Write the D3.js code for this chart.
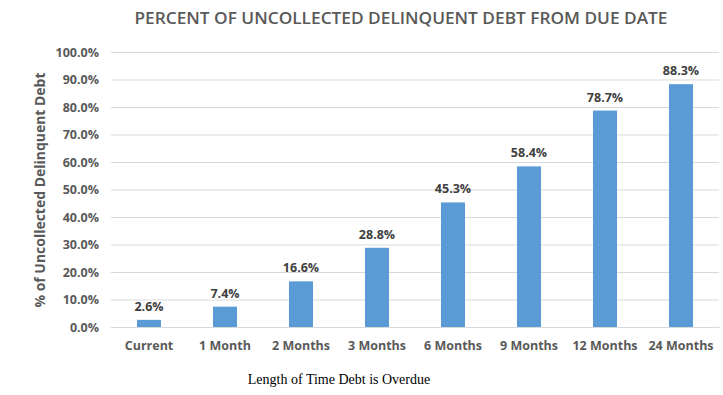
<!DOCTYPE html>
<html>
<head>
<meta charset="utf-8">
<script src="https://cdn.jsdelivr.net/npm/d3@7"></script>
<style>
  body { margin: 0; background: #fff; }
  svg { display: block; }
</style>
</head>
<body>
<script>
"use strict";

const categories = ["Current", "1 Month", "2 Months", "3 Months", "6 Months", "9 Months", "12 Months", "24 Months"];
const values = [2.6, 7.4, 16.6, 28.8, 45.3, 58.4, 78.7, 88.3];
const yTicks = [0, 10, 20, 30, 40, 50, 60, 70, 80, 90, 100];

const width = 723, height = 395;
const margin = { top: 52, right: 4, bottom: 68, left: 111 };

const svg = d3.select("body").append("svg")
    .attr("width", width)
    .attr("height", height);

const x = d3.scaleBand()
    .domain(categories)
    .range([margin.left, width - margin.right])
    .paddingInner(0.684)
    .paddingOuter(0.342);

const y = d3.scaleLinear()
    .domain([0, 100])
    .range([height - margin.bottom, margin.top]);

const labelFont = "'Open Sans', 'DejaVu Sans', sans-serif";

// gridlines + y labels
const yAxis = d3.axisLeft(y)
    .tickValues(yTicks)
    .tickSize(-(width - margin.right - margin.left))
    .tickPadding(12)
    .tickFormat(d => d.toFixed(1) + "%");

svg.append("g")
    .attr("transform", `translate(${margin.left},0)`)
    .call(yAxis)
    .call(g => g.select(".domain").remove())
    .call(g => g.selectAll(".tick line").attr("stroke", "#d9d9d9"))
    .call(g => g.selectAll(".tick text")
        .attr("fill", "#595959")
        .style("font", `bold 12.5px ${labelFont}`));

// bars
svg.append("g").selectAll("rect")
    .data(values)
    .join("rect")
    .attr("x", (d, i) => x(categories[i]))
    .attr("y", d => y(d))
    .attr("width", x.bandwidth())
    .attr("height", d => y(0) - y(d))
    .attr("fill", "#5b9bd5");

// data labels
svg.append("g").selectAll("text")
    .data(values)
    .join("text")
    .attr("x", (d, i) => x(categories[i]) + x.bandwidth() / 2)
    .attr("y", d => y(d) - 9)
    .attr("text-anchor", "middle")
    .attr("fill", "#404040")
    .style("font", `bold 12.5px ${labelFont}`)
    .text(d => d.toFixed(1) + "%");

// x axis
const xAxis = d3.axisBottom(x).tickSize(0).tickPadding(14);
svg.append("g")
    .attr("transform", `translate(0,${y(0)})`)
    .call(xAxis)
    .call(g => g.select(".domain").attr("stroke", "#d9d9d9"))
    .call(g => g.selectAll(".tick text")
        .attr("fill", "#595959")
        .style("font", `bold 12.5px ${labelFont}`));

// title
svg.append("text")
    .attr("x", 401)
    .attr("y", 24)
    .attr("text-anchor", "middle")
    .attr("fill", "#595959")
    .attr("textLength", 533)
    .attr("lengthAdjust", "spacingAndGlyphs")
    .style("font", `600 16px ${labelFont}`)
    .text("PERCENT OF UNCOLLECTED DELINQUENT DEBT FROM DUE DATE");

// y axis title
svg.append("text")
    .attr("transform", `translate(45,190) rotate(-90)`)
    .attr("text-anchor", "middle")
    .attr("fill", "#595959")
    .attr("textLength", 235)
    .attr("lengthAdjust", "spacingAndGlyphs")
    .style("font", `bold 14.5px ${labelFont}`)
    .text("% of Uncollected Delinquent Debt");

// x axis title
svg.append("text")
    .attr("x", 339)
    .attr("y", 384)
    .attr("text-anchor", "middle")
    .attr("fill", "#000")
    .style("font", "14px 'Liberation Serif', 'Times New Roman', serif")
    .text("Length of Time Debt is Overdue");
</script>
</body>
</html>
